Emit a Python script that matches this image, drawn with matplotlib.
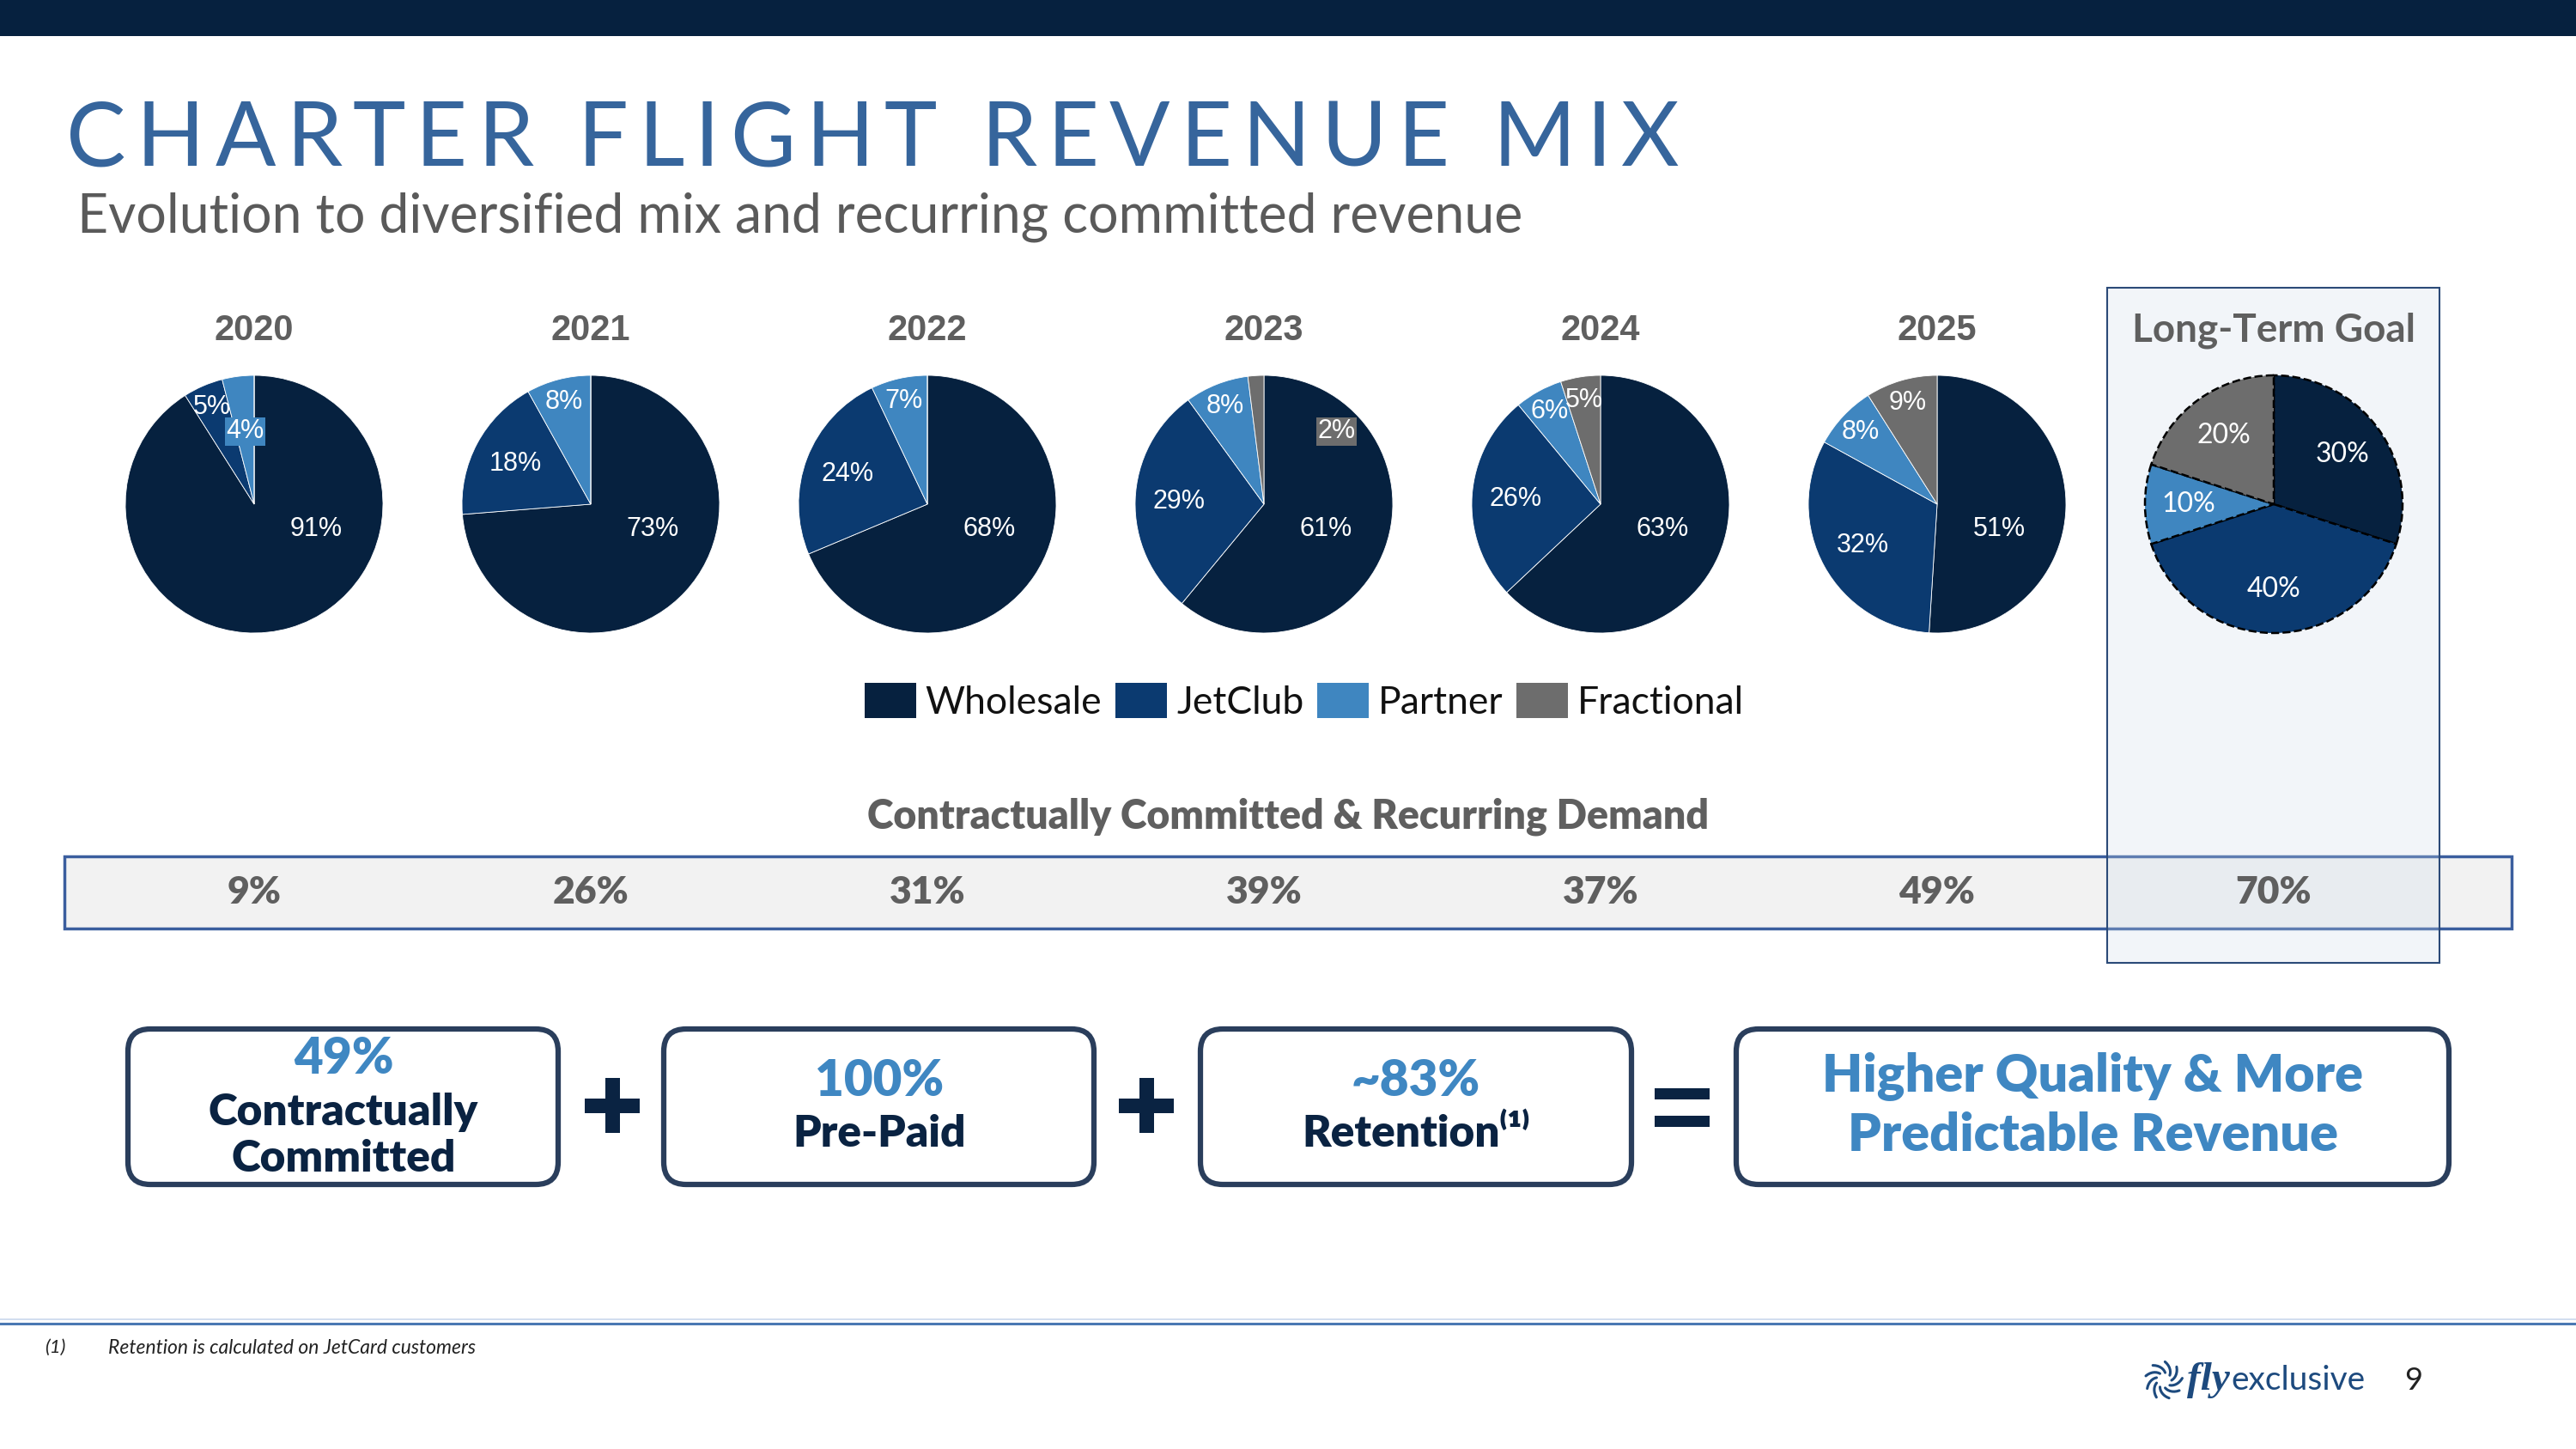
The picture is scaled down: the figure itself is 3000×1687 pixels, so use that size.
import numpy as np
import matplotlib
matplotlib.use('Agg')
import matplotlib.pyplot as plt
from matplotlib.patches import Rectangle, FancyBboxPatch, Patch

# --- data ---
years = ['2020', '2021', '2022', '2023', '2024', '2025']
segments = ['Wholesale', 'JetClub', 'Partner', 'Fractional']
wholesale = [91, 73, 68, 61, 63, 51]
jetclub = [5, 18, 24, 29, 26, 32]
partner = [4, 8, 7, 8, 6, 8]
fractional = [0, 0, 0, 2, 5, 9]
goal_label = 'Long-Term Goal'
goal_mix = [30, 40, 10, 20]
committed = [9, 26, 31, 39, 37, 49, 70]

seg_colors = ['#06213f', '#0b3a70', '#3f86c0', '#6d6d6d']
NAVY = '#0a2342'
BLUE = '#3f87c2'
GREY = '#5f5f5f'

W, H = 3000, 1687


def Y(p):
    # pixel row (from top) -> data y
    return H - p


fig = plt.figure(figsize=(30, 16.87), dpi=100)
ax = fig.add_axes([0, 0, 1, 1])
renderer = fig.canvas.get_renderer()


def text_width(s, **kw):
    t = ax.text(0, 0, s, **kw)
    w = t.get_window_extent(renderer=renderer).width
    t.remove()
    return w


def spaced_text(x, y, s, target_width, **kw):
    widths = [text_width(ch, **kw) for ch in s]
    gap = (target_width - sum(widths)) / (len(s) - 1)
    for ch, w in zip(s, widths):
        ax.text(x, y, ch, ha='left', va='baseline', **kw)
        x += w + gap


# header
ax.add_patch(Rectangle((0, Y(42)), W, 42, fc='#06213f', ec='none'))
spaced_text(77, Y(193), 'CHARTER FLIGHT REVENUE MIX', 1879,
            fontsize=75, family='Lato', color='#36659c')
ax.text(90, Y(270), 'Evolution to diversified mix and recurring committed revenue',
        fontsize=45, family='Lato', color='#5a5a5a', va='baseline')

# band of committed demand + goal box
ax.add_patch(Rectangle((75, Y(1081)), 2850, 84, fc='#f2f2f2', ec='#3b5e9e', lw=2.5, zorder=1))
ax.add_patch(Rectangle((2454, Y(1121)), 387, 786, fc=(0.80, 0.86, 0.92, 0.25),
                       ec='#2b4a78', lw=1.5, zorder=2))

R = 150
cy = Y(587)
x0, step = 296, 392

# label placement tweaks (angle deg, distance in radii, boxed)
label_moves = {(0, 2): (97, 0.57, True), (3, 3): (45, 0.80, True)}

for i, yr in enumerate(years):
    vals = [wholesale[i], jetclub[i], partner[i], fractional[i]]
    cx = x0 + step * i
    wedges, _ = ax.pie(vals, colors=seg_colors, startangle=90, counterclock=False,
                       center=(cx, cy), radius=R,
                       wedgeprops=dict(linewidth=0.6, edgecolor='white', zorder=3))
    ax.text(cx, Y(385), yr, ha='center', va='center', fontsize=30,
            fontweight='bold', family='Liberation Sans', color=GREY)
    for k, (w, v) in enumerate(zip(wedges, vals)):
        if v == 0:
            continue
        ang = np.deg2rad((w.theta1 + w.theta2) / 2)
        d = 0.82 if v < 10 else 0.66
        box = None
        if k == 0:
            ang, d = np.deg2rad(-22), 0.52
        if (i, k) in label_moves:
            a, d, boxed = label_moves[(i, k)]
            ang = np.deg2rad(a)
            if boxed:
                box = dict(boxstyle='square,pad=0.05', fc=seg_colors[k], ec='none')
        ax.text(cx + d * R * np.cos(ang), cy + d * R * np.sin(ang), f'{v}%',
                ha='center', va='center', color='white', fontsize=22,
                family='Liberation Sans', bbox=box, zorder=5)

# long-term goal pie
gx = x0 + step * len(years)
wedges, _ = ax.pie(goal_mix, colors=seg_colors, startangle=90, counterclock=False,
                   center=(gx, cy), radius=R,
                   wedgeprops=dict(linewidth=1.8, edgecolor='black', linestyle='--', zorder=3))
for w, v in zip(wedges, goal_mix):
    ang = np.deg2rad((w.theta1 + w.theta2) / 2)
    ax.text(gx + 0.66 * R * np.cos(ang), cy + 0.66 * R * np.sin(ang), f'{v}%',
            ha='center', va='center', color='white', fontsize=23, family='Lato', zorder=5)
ax.text(gx, Y(385), goal_label, ha='center', va='center', fontsize=33,
        fontweight='bold', family='Lato', color=GREY)

# legend
handles = [Patch(facecolor=c, edgecolor='none', label=s) for c, s in zip(seg_colors, segments)]
ax.legend(handles=handles, loc='center', bbox_to_anchor=(1519, Y(817)),
          bbox_transform=ax.transData, ncol=4, frameon=False,
          prop=dict(family='Lato', size=32), labelcolor='#111111',
          handlelength=1.35, handleheight=1.05, handletextpad=0.25,
          columnspacing=0.35, borderpad=0)

# committed & recurring demand row
ax.text(1500, Y(951), 'Contractually Committed & Recurring Demand', ha='center', va='center',
        fontsize=33.5, fontweight='heavy', family='Lato', color=GREY)
for i, v in enumerate(committed):
    ax.text(x0 + step * i, Y(1039), f'{v}%', ha='center', va='center', fontsize=32,
            fontweight='heavy', family='Lato', color=GREY, zorder=4)

# bottom equation boxes
boxes = [(149, 650), (773, 1274), (1398, 1900), (2022, 2852)]
for bx0, bx1 in boxes:
    ax.add_patch(FancyBboxPatch((bx0, Y(1379)), bx1 - bx0, 181,
                                boxstyle='round,pad=0,rounding_size=26',
                                fc='white', ec='#2a3e5c', lw=4.5))

bold = dict(ha='center', va='center', fontweight='heavy', family=['Lato', 'DejaVu Sans'])
ax.text(400, Y(1232), '49%', fontsize=42, color=BLUE, **bold)
ax.text(400, Y(1295), 'Contractually', fontsize=37, color=NAVY, **bold)
ax.text(400, Y(1349), 'Committed', fontsize=37, color=NAVY, **bold)
ax.text(1024, Y(1259), '100%', fontsize=42, color=BLUE, **bold)
ax.text(1024, Y(1320), 'Pre-Paid', fontsize=37, color=NAVY, **bold)
ax.text(1649, Y(1259), '~83%', fontsize=42, color=BLUE, **bold)
ax.text(1649, Y(1320), 'Retention⁽¹⁾', fontsize=37, color=NAVY, **bold)
ax.text(2437, Y(1253), 'Higher Quality & More', fontsize=44, color=BLUE, **bold)
ax.text(2437, Y(1322), 'Predictable Revenue', fontsize=44, color=BLUE, **bold)

# operators
for px in (713, 1335):
    ax.add_patch(Rectangle((px - 32, Y(1287) - 8.5), 64, 17, fc=NAVY, ec='none'))
    ax.add_patch(Rectangle((px - 8.5, Y(1287) - 32), 17, 64, fc=NAVY, ec='none'))
for dy in (-16, 16):
    ax.add_patch(Rectangle((1959 - 32, Y(1289) + dy - 6.5), 64, 13, fc=NAVY, ec='none'))

# footer
ax.plot([0, W], [Y(1536), Y(1536)], color='#c9d8ec', lw=1.2)
ax.plot([0, W], [Y(1541), Y(1541)], color='#4a78b3', lw=2.2)
ax.text(52, Y(1569), '(1)', fontsize=16, style='italic', family='Lato', color='#222222', va='center')
ax.text(126, Y(1569), 'Retention is calculated on JetCard customers', fontsize=16.5,
        style='italic', family='Lato', color='#222222', va='center')

# logo
lx, ly = 2520, Y(1607)
for k in range(9):
    a = np.deg2rad(k * 40)
    t = np.linspace(0, 0.9, 8)
    rr = 9 + 14 * t
    aa = a + 0.9 * t
    ax.plot(lx + rr * np.cos(aa), ly + rr * np.sin(aa), color='#1d4a7e', lw=2.2,
            solid_capstyle='round')
ax.text(2547, ly, 'fly', fontsize=34, style='italic', fontweight='bold',
        family='Liberation Serif', color='#1d4a7e', va='center')
fly_w = text_width('fly', fontsize=34, style='italic', fontweight='bold', family='Liberation Serif')
ax.text(2547 + fly_w + 2, ly, 'exclusive', fontsize=28, family='Lato', color='#1d4a7e', va='center')
ax.text(2800, ly, '9', fontsize=26, family='Lato', color='#222222', va='center')

ax.set_xlim(0, W)
ax.set_ylim(0, H)
ax.set_aspect('auto')
ax.axis('off')

fig.savefig('out.png', dpi=100)
